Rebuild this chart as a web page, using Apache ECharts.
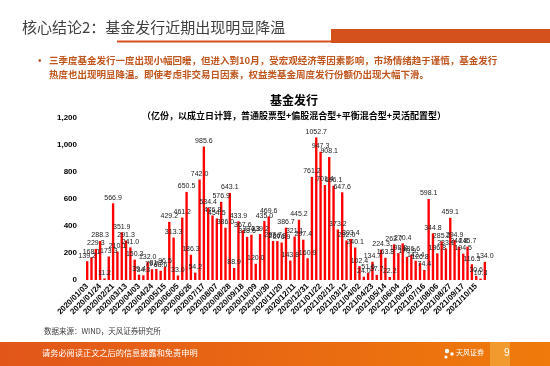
<!DOCTYPE html>
<html><head><meta charset="utf-8">
<script src="https://cdn.jsdelivr.net/npm/echarts@6/dist/echarts.min.js"></script>
<style>html,body{margin:0;padding:0;background:#fff}#c{width:550px;height:366px}</style>
</head><body><div id="c"></div>
<script>
var dates = ['2020/01/03','2020/01/10','2020/01/17','2020/01/24','2020/02/07','2020/02/14','2020/02/21','2020/02/28','2020/03/06','2020/03/13','2020/03/20','2020/03/27','2020/04/03','2020/04/10','2020/04/17','2020/04/24','2020/04/30','2020/05/08','2020/05/15','2020/05/22','2020/05/29','2020/06/05','2020/06/12','2020/06/19','2020/06/26','2020/07/03','2020/07/10','2020/07/17','2020/07/24','2020/07/31','2020/08/07','2020/08/14','2020/08/21','2020/08/28','2020/09/04','2020/09/11','2020/09/18','2020/09/25','2020/09/30','2020/10/09','2020/10/16','2020/10/23','2020/10/30','2020/11/06','2020/11/13','2020/11/20','2020/11/27','2020/12/04','2020/12/11','2020/12/18','2020/12/25','2020/12/31','2021/01/08','2021/01/15','2021/01/22','2021/01/29','2021/02/05','2021/02/12','2021/02/26','2021/03/05','2021/03/12','2021/03/19','2021/03/26','2021/04/02','2021/04/09','2021/04/16','2021/04/23','2021/04/30','2021/05/07','2021/05/14','2021/05/21','2021/05/28','2021/06/04','2021/06/11','2021/06/18','2021/06/25','2021/07/02','2021/07/09','2021/07/16','2021/07/23','2021/07/30','2021/08/06','2021/08/13','2021/08/20','2021/08/27','2021/09/03','2021/09/10','2021/09/17','2021/09/24','2021/09/30','2021/10/15','2021/10/22','2021/10/29'];
var issuance = [139.2,168.1,229.3,288.3,11.2,173.3,566.9,210.1,351.9,291.3,
241.0,150.3,39.4,34.3,132.0,79.7,81.3,68.6,96.5,429.2,
313.3,33.0,461.2,650.5,186.3,54.2,742.0,985.6,534.4,476.8,
454.5,576.9,386.0,643.1,88.9,433.9,367.6,318.6,334.3,120.0,
339.2,435.0,469.6,287.7,286.8,276.9,386.7,143.8,321.1,445.2,
297.4,160.9,761.2,1052.7,947.3,701.4,908.1,696.1,373.2,647.6,
292.0,303.4,240.1,102.4,24.0,51.6,134.7,37.7,224.3,163.8,
22.2,263.7,198.8,270.4,170.9,186.6,142.4,126.8,74.4,598.1,
344.8,196.8,285.2,233.1,459.1,294.9,244.8,194.5,245.7,116.3,
30.6,10.3,134.0];
var yTicks = {min: 0, max: 1200, step: 200};
var pageTitle = '核心结论2：基金发行近期出现明显降温';
var bulletLines = ['三季度基金发行一度出现小幅回暖，但进入到10月，受宏观经济等因素影响，市场情绪趋于谨慎，基金发行',
                   '热度也出现明显降温。即使考虑非交易日因素，权益类基金周度发行份额仍出现大幅下滑。'];
var chartTitle = '基金发行';
var chartSubtitle = '（亿份，以成立日计算，普通股票型+偏股混合型+平衡混合型+灵活配置型）';
var sourceText = '数据来源：WIND，天风证券研究所';
var footerText = '请务必阅读正文之后的信息披露和免责申明';

var FF = '"Liberation Sans", "Noto Sans CJK SC", sans-serif';
var CJK = '"Noto Sans CJK SC", "Liberation Sans", sans-serif';
var chart = echarts.init(document.getElementById('c'), null, {renderer: 'canvas'});
chart.setOption({
  animation: false,
  title: {
    text: chartTitle, subtext: chartSubtitle, left: 289, top: 89, textAlign: 'center', itemGap: 5,
    textStyle: {fontSize: 12, fontWeight: 'bold', color: '#000', fontFamily: CJK},
    subtextStyle: {fontSize: 9, fontWeight: 'bold', color: '#000', fontFamily: CJK}
  },
  grid: {left: 85, right: 63, top: 117.5, bottom: 86, containLabel: false},
  xAxis: {
    type: 'category', data: dates,
    axisLine: {show: false}, axisTick: {show: false},
    axisLabel: {interval: 2, rotate: 45, fontSize: 8, fontWeight: 'bold', color: '#000', fontFamily: FF, margin: 5}
  },
  yAxis: {
    type: 'value', min: yTicks.min, max: yTicks.max, interval: yTicks.step,
    splitLine: {show: false}, axisLine: {show: false}, axisTick: {show: false},
    axisLabel: {fontSize: 8, fontWeight: 'bold', color: '#000', fontFamily: FF, margin: 8}
  },
  series: [{
    type: 'bar', data: issuance, barWidth: '55%',
    itemStyle: {color: '#FF0000'},
    label: {show: true, position: 'top', distance: 2, fontSize: 7, color: '#222', fontFamily: FF,
      formatter: function (p) { return p.value.toFixed(1); }}
  }],
  graphic: [
    {type: 'text', left: 22, top: 20, style: {text: pageTitle, fontSize: 15, fill: '#404040', fontFamily: CJK}},
    {type: 'rect', shape: {x: 117, y: 40.5, width: 214, height: 2}, style: {fill: '#D4501C'}},
    {type: 'rect', shape: {x: 331, y: 29, width: 219, height: 14}, style: {fill: '#D4501C'}},
    {type: 'text', left: 38, top: 56, style: {text: '•', fontSize: 10, fill: '#C0561E', fontFamily: FF}},
    {type: 'text', left: 49, top: 56, style: {text: bulletLines[0], fontSize: 9.5, fontWeight: 'bold', fill: '#C0561E', fontFamily: CJK}},
    {type: 'text', left: 49, top: 70, style: {text: bulletLines[1], fontSize: 9.5, fontWeight: 'bold', fill: '#C0561E', fontFamily: CJK}},
    {type: 'text', left: 44, top: 327, style: {text: sourceText, fontSize: 7.5, fill: '#404040', fontFamily: CJK}},
    {type: 'rect', shape: {x: 0, y: 342, width: 550, height: 24},
      style: {fill: new echarts.graphic.LinearGradient(0, 0, 1, 0, [{offset: 0, color: '#E2561A'}, {offset: 1, color: '#EF7B0B'}])}},
    {type: 'rect', shape: {x: 490, y: 342, width: 20, height: 24}, style: {fill: '#F29A2E'}},
    {type: 'text', left: 42, top: 349, style: {text: footerText, fontSize: 8.2, fill: '#fff', fontFamily: CJK}},
    {type: 'text', left: 456, top: 349, style: {text: '天风证券', fontSize: 7, fill: '#fff', fontFamily: CJK}},
    {type: 'circle', shape: {cx: 447, cy: 351, r: 2.2}, style: {fill: '#fff'}},
    {type: 'circle', shape: {cx: 452, cy: 354, r: 1.8}, style: {fill: '#fff'}},
    {type: 'circle', shape: {cx: 446, cy: 357, r: 1.6}, style: {fill: '#fff'}},
    {type: 'text', left: 504, top: 348, style: {text: '9', fontSize: 10, fill: '#fff', fontFamily: FF}}
  ]
});
</script></body></html>
